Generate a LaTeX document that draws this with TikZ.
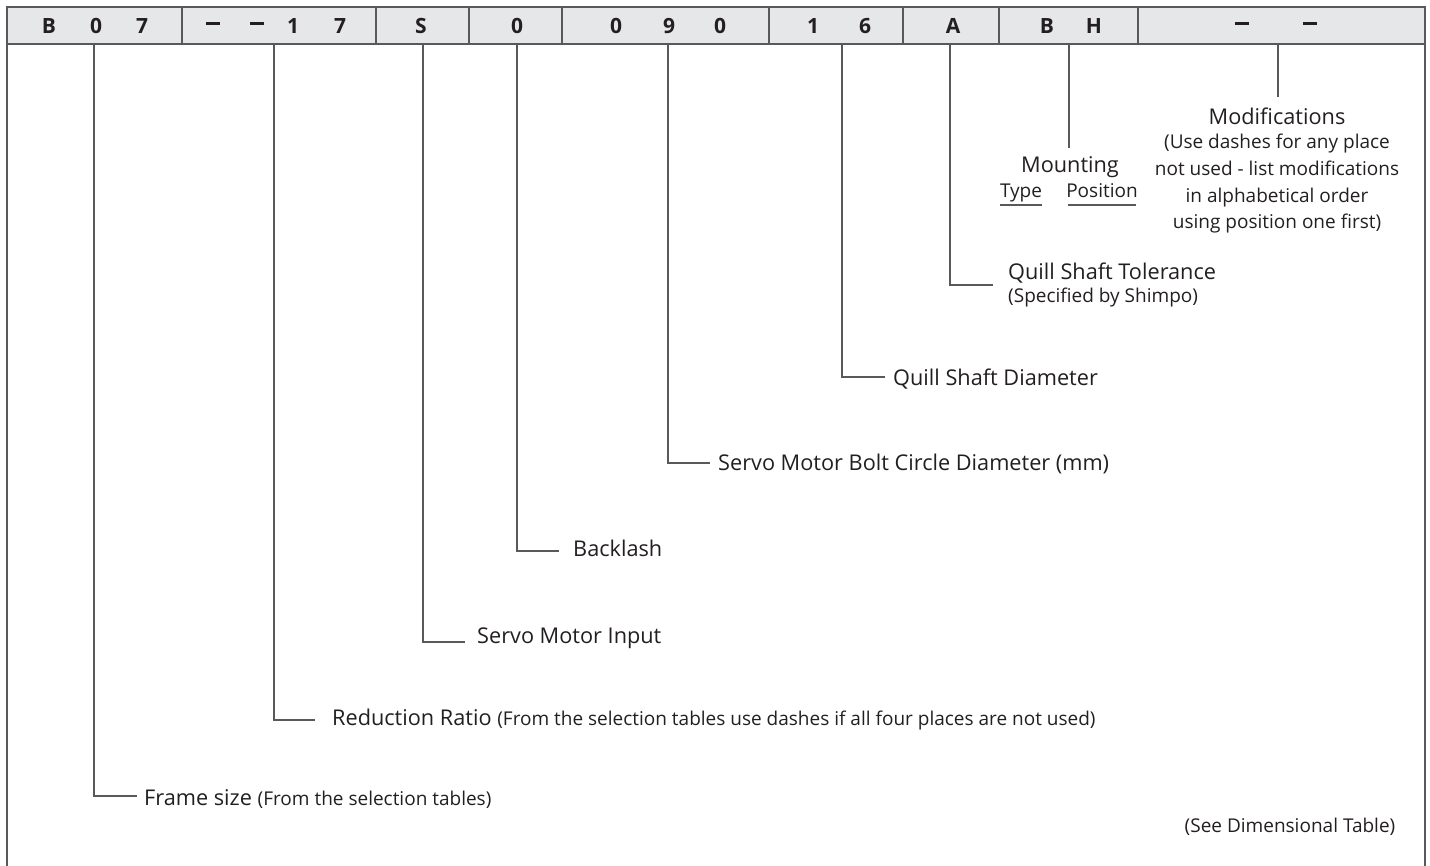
\documentclass[tikz,border=0pt]{standalone}
\usepackage{fontspec}
\setmainfont{Open Sans}
\definecolor{ln}{HTML}{58595B}
\definecolor{tx}{HTML}{231F20}
\definecolor{hd}{HTML}{E6E7E8}
\newcommand{\bigf}{\fontsize{21.7}{26}\selectfont}
\newcommand{\smf}{\fontsize{19}{22}\selectfont}
\newcommand{\hdash}{\rule[5pt]{14pt}{2.6pt}}
\tikzset{
  frameline/.style={draw=ln, line width=1.8pt},
  conn/.style={draw=ln, line width=1.4pt},
  hdr/.style={font=\bfseries\fontsize{21}{25}\selectfont, text=tx, inner sep=0pt},
  lbl/.style={font=\bigf, text=tx, inner sep=0pt, anchor=base west},
  mods/.style={font=\smf, text=tx, inner sep=0pt, anchor=base},
  uline/.style={draw=ln, line width=1.2pt}
}
\begin{document}
\begin{tikzpicture}[x=1pt,y=-1pt]
\useasboundingbox (0,0) rectangle (1430,865);
% header cells
\foreach \a/\b in {7/182,182/376,376/469,469/562,562/769,769/903,903/999,999/1138,1138/1425}
  \draw[frameline, fill=hd] (\a,7) rectangle (\b,44);
% outer sides
\draw[frameline] (7,44) -- (7,866);
\draw[frameline] (1425,44) -- (1425,866);
% header characters
\node[hdr] (cB1) at (49,26) {B};
\node[hdr] (c01) at (96,26) {0};
\node[hdr] (c71) at (142,26) {7};
\node[hdr] (cd1) at (213,26) {\hdash};
\node[hdr] (cd2) at (257,26) {\hdash};
\node[hdr] (c11) at (293,26) {1};
\node[hdr] (c72) at (340,26) {7};
\node[hdr] (cS) at (421,26) {S};
\node[hdr] (c02) at (517,26) {0};
\node[hdr] (c03) at (616,26) {0};
\node[hdr] (c9) at (669,26) {9};
\node[hdr] (c04) at (720,26) {0};
\node[hdr] (c12) at (813,26) {1};
\node[hdr] (c6) at (865,26) {6};
\node[hdr] (cA) at (953,26) {A};
\node[hdr] (cB2) at (1047,26) {B};
\node[hdr] (cH) at (1094,26) {H};
\node[hdr] (cd3) at (1242,26) {\hdash};
\node[hdr] (cd4) at (1310,26) {\hdash};
% connector start points
\coordinate (s1) at (94,44);
\coordinate (s2) at (274,44);
\coordinate (s3) at (423,44);
\coordinate (s4) at (517,44);
\coordinate (s5) at (668,44);
\coordinate (s6) at (842,44);
\coordinate (s7) at (950,44);
\coordinate (s8) at (1069,44);
\coordinate (s9) at (1278,44);
% connector ends
\coordinate (e1) at (137,796);
\coordinate (e2) at (315,720);
\coordinate (e3) at (465,642);
\coordinate (e4) at (559,551);
\coordinate (e5) at (710,463);
\coordinate (e6) at (885,377);
\coordinate (e7) at (993,285);
\coordinate (e8) at (1069,148);
\coordinate (e9) at (1278,97);
% labels
\node[lbl] (frame) at (144,805) {Frame size {\smf (From the selection tables)}};
\node[lbl] (ratio) at (332,725) {Reduction Ratio {\smf (From the selection tables use dashes if all four places are not used)}};
\node[lbl] (input) at (477,643) {Servo Motor Input};
\node[lbl] (back) at (573,556) {Backlash};
\node[lbl] (bolt) at (718,470) {Servo Motor Bolt Circle Diameter (mm)};
\node[lbl] (qsd) at (893,385) {Quill Shaft Diameter};
\node[lbl] (qst) at (1008,279) {Quill Shaft Tolerance};
\node[lbl, font=\smf] (qsts) at (1008,302) {(Specified by Shimpo)};
% mounting
\node[font=\bigf, text=tx, inner sep=0pt, anchor=base] (mount) at (1070,172) {Mounting};
\node[mods] (type) at (1021,197) {Type};
\node[mods] (pos) at (1102,197) {Position};
\draw[uline] (1000,205) -- (1042,205);
\draw[uline] (1068,205) -- (1136,205);
% modifications
\node[font=\bigf, text=tx, inner sep=0pt, anchor=base] (modt) at (1277,124) {Modifications};
\node[mods] (m1) at (1277,148) {(Use dashes for any place};
\node[mods] (m2) at (1277,175) {not used - list modifications};
\node[mods] (m3) at (1277,202) {in alphabetical order};
\node[mods] (m4) at (1277,228) {using position one first)};
\node[mods] (see) at (1290,832) {(See Dimensional Table)};
% connectors
\draw[conn] (s1) |- (e1);
\draw[conn] (s2) |- (e2);
\draw[conn] (s3) |- (e3);
\draw[conn] (s4) |- (e4);
\draw[conn] (s5) |- (e5);
\draw[conn] (s6) |- (e6);
\draw[conn] (s7) |- (e7);
\draw[conn] (s8) -- (e8);
\draw[conn] (s9) -- (e9);
\end{tikzpicture}
\end{document}
